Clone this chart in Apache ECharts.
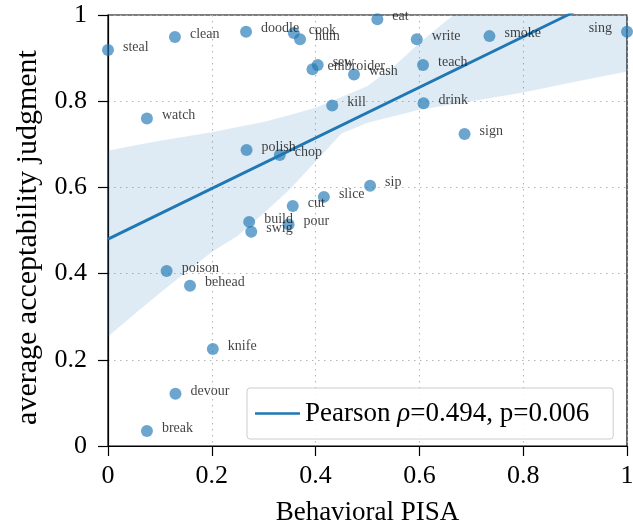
<!DOCTYPE html>
<html>
<head>
<meta charset="utf-8">
<title>PISA vs acceptability</title>
<style>
  html, body { margin: 0; padding: 0; background: #fff; }
  #chart { width: 633px; height: 526px; }
</style>
</head>
<body>
<div id="chart"></div>
<script src="https://cdn.jsdelivr.net/npm/echarts@6/dist/echarts.min.js"></script>
<script>
// verbs and their scores
var verbs = ['steal', 'clean', 'doodle', 'cook', 'hum', 'sew', 'embroider', 'wash', 'kill', 'watch',
             'polish', 'chop', 'slice', 'cut', 'sip', 'build', 'swig', 'pour', 'poison', 'behead',
             'knife', 'devour', 'break', 'eat', 'write', 'smoke', 'sing', 'teach', 'drink', 'sign'];
var pisa = [0.000, 0.129, 0.266, 0.358, 0.370, 0.404, 0.394, 0.474, 0.432, 0.075,
            0.267, 0.331, 0.416, 0.356, 0.505, 0.272, 0.276, 0.348, 0.113, 0.158,
            0.202, 0.130, 0.075, 0.519, 0.595, 0.735, 1.000, 0.607, 0.608, 0.687];
var judgment = [0.919, 0.949, 0.961, 0.958, 0.944, 0.884, 0.874, 0.862, 0.790, 0.760,
                0.687, 0.675, 0.578, 0.557, 0.604, 0.520, 0.497, 0.514, 0.406, 0.372,
                0.225, 0.121, 0.035, 0.990, 0.944, 0.951, 0.961, 0.884, 0.795, 0.724];

// regression line (end points) and its confidence band
var fitName = 'Pearson ρ=0.494, p=0.006';
var fitX = [0, 1];
var fitY = [0.480, 1.067];
var bandX = [0, 0.05, 0.1, 0.15, 0.2, 0.25, 0.3, 0.35, 0.4, 0.45, 0.5, 0.55, 0.6, 0.65, 0.7, 0.8, 0.9, 1.0];
var bandLow = [0.254, 0.305, 0.355, 0.403, 0.450, 0.488, 0.540, 0.595, 0.660, 0.725, 0.750, 0.765,
               0.780, 0.790, 0.800, 0.820, 0.845, 0.869];
var bandHigh = [0.685, 0.697, 0.708, 0.718, 0.728, 0.740, 0.752, 0.768, 0.785, 0.810, 0.835, 0.880,
                0.935, 0.985, 1.030, 1.100, 1.150, 1.200];

var serif = 'Liberation Serif, Times New Roman, serif';
var chart = echarts.init(document.getElementById('chart'));

var points = verbs.map(function (v, i) {
    var item = { name: v, value: [pisa[i], judgment[i]] };
    if (v === 'sing') item.label = { position: 'left' };
    return item;
});

function renderBand(params, api) {
    var pts = [];
    for (var i = 0; i < bandX.length; i++) pts.push(api.coord([bandX[i], bandHigh[i]]));
    for (var j = bandX.length - 1; j >= 0; j--) pts.push(api.coord([bandX[j], bandLow[j]]));
    var cs = params.coordSys;
    return {
        type: 'polygon',
        shape: { points: pts },
        style: { fill: 'rgba(31,119,180,0.15)' },
        clipPath: { type: 'rect', shape: { x: cs.x, y: cs.y, width: cs.width, height: cs.height } }
    };
}

var option = {
    animation: false,
    grid: {
        left: 108, right: 6, top: 15, bottom: 80,
        outerBoundsMode: 'none', containLabel: false,
        show: true, borderColor: '#000', borderWidth: 1.2, backgroundColor: 'transparent'
    },
    legend: {
        data: [fitName],
        left: 247, top: 388,
        icon: 'rect', itemWidth: 45, itemHeight: 2.5,
        padding: [12, 24, 12, 8],
        backgroundColor: 'rgba(255,255,255,0.85)',
        borderColor: '#cccccc', borderWidth: 1, borderRadius: 3,
        formatter: function () {
            return '{a|Pearson }{i|ρ}{a|=0.494, p=0.006}';
        },
        textStyle: {
            color: '#000', fontFamily: serif, fontSize: 27,
            rich: {
                a: { fontFamily: serif, fontSize: 27, color: '#000' },
                i: { fontFamily: serif, fontSize: 27, color: '#000', fontStyle: 'italic' }
            }
        }
    },
    xAxis: {
        type: 'value', min: 0, max: 1, interval: 0.2,
        name: 'Behavioral PISA', nameLocation: 'middle', nameGap: 53,
        nameTextStyle: { fontFamily: serif, fontSize: 27, color: '#000' },
        axisLine: { lineStyle: { color: '#000', width: 1.2 } },
        axisTick: { length: 10, lineStyle: { color: '#000', width: 1.2 } },
        axisLabel: { margin: 17, fontFamily: serif, fontSize: 26, color: '#000' },
        splitLine: { lineStyle: { color: '#b5b5b5', type: [1.5, 4.5], width: 1.1 } }
    },
    yAxis: {
        type: 'value', min: 0, max: 1, interval: 0.2,
        name: 'average acceptability judgment', nameLocation: 'middle', nameGap: 64,
        nameTextStyle: { fontFamily: serif, fontSize: 30, color: '#000', padding: [0, 14, 0, 0] },
        axisLine: { show: true, lineStyle: { color: '#000', width: 1.2 } },
        axisTick: { show: true, length: 10, lineStyle: { color: '#000', width: 1.2 } },
        axisLabel: { margin: 21, fontFamily: serif, fontSize: 26, color: '#000' },
        splitLine: { lineStyle: { color: '#b5b5b5', type: [1.5, 4.5], width: 1.1 } }
    },
    series: [
        {
            name: 'band', type: 'custom', silent: true,
            renderItem: renderBand,
            data: [[0, 0]],
            z: 1
        },
        {
            name: fitName, type: 'line', symbol: 'none',
            lineStyle: { color: '#1f77b4', width: 2.8 },
            itemStyle: { color: '#1f77b4' },
            data: fitX.map(function (x, i) { return [x, fitY[i]]; }),
            z: 2
        },
        {
            name: 'verbs', type: 'scatter', symbolSize: 12,
            itemStyle: { color: 'rgba(31,119,180,0.82)' },
            label: {
                show: true, position: 'right', distance: 9, offset: [0, -3],
                formatter: '{b}',
                fontFamily: serif, fontSize: 14, color: '#111'
            },
            data: points,
            z: 3
        }
    ]
};

chart.setOption(option);
</script>
</body>
</html>
